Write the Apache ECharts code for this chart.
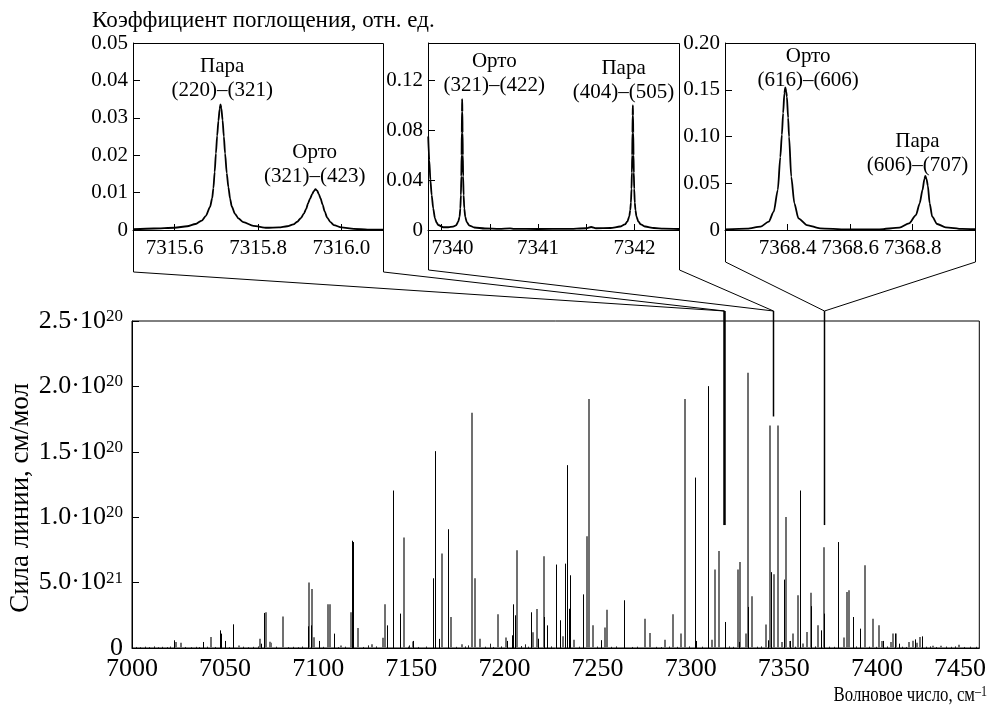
<!DOCTYPE html>
<html>
<head>
<meta charset="utf-8">
<script src="https://cdn.jsdelivr.net/npm/echarts@6/dist/echarts.min.js"></script>
<style>
  html, body { margin: 0; padding: 0; background: #fff; }
  #chart { width: 989px; height: 708px; }
</style>
</head>
<body>
<div id="chart"></div>
<script>
// ---------- data ----------
// Line list: [wavenumber, cm^-1 ; line strength in units of 1e20 cm/mol]
const linesBlack = [
  [7022.5,0.059],[7038.2,0.046],[7047.5,0.135],[7047.9,0.11],[7049.8,0.054],[7054.3,0.181],
  [7069.4,0.033],[7071.1,0.268],[7094.5,0.166],[7095.9,0.173],[7100.6,0.054],[7108.3,0.11],
  [7118.2,0.82],[7118.6,0.81],[7136.8,0.173],[7140.0,1.204],[7140.4,0.242],[7143.8,0.263],
  [7150.8,0.054],[7161.5,0.533],[7162.7,1.505],[7165.1,0.07],[7169.5,0.908],[7201.5,0.054],
  [7203.8,0.097],[7204.5,0.334],[7205.4,0.25],[7214.5,0.273],[7218.0,0.071],[7221.5,0.237],
  [7222.6,0.173],[7227.9,0.638],[7230.1,0.212],[7232.7,0.645],[7233.8,1.398],[7234.5,0.30],
  [7235.4,0.556],[7242.2,0.41],[7252.1,0.06],[7264.4,0.365],[7302.1,1.303],[7302.8,0.054],
  [7309.2,2.002],[7318.7,0.199],[7326.2,0.046],[7331.0,0.314],[7341.4,0.059],[7343.3,0.58],
  [7350.1,0.523],[7353.2,0.054],[7358.7,1.204],[7364.8,0.32],[7369.9,0.135],[7371.7,0.263],
  [7379.2,0.81],[7387.1,0.237],[7390.8,0.148],[7403.5,0.054],[7409.8,0.11],[7411.7,0.033],
  [7420.3,0.066],[7424.0,0.089]
];
const linesGray = [
  [7023.4,0.046],[7026.1,0.041],[7042.2,0.084],[7057.3,0.02],[7069.0,0.071],[7071.8,0.273],
  [7074.3,0.048],[7074.9,0.04],[7080.9,0.24],[7095.2,0.50],[7096.5,0.451],[7097.9,0.082],
  [7105.2,0.334],[7106.5,0.334],[7112.2,0.02],[7117.7,0.273],[7121.1,0.153],[7128.8,0.028],
  [7134.7,0.079],[7135.9,0.334],[7146.3,0.844],[7151.0,0.05],[7166.3,0.059],[7166.7,0.722],
  [7171.3,0.237],[7177.4,0.028],[7182.7,1.798],[7184.4,0.533],[7186.9,0.07],[7196.3,0.258],
  [7200.6,0.08],[7206.7,0.747],[7215.1,0.12],[7217.4,0.298],[7221.3,0.701],[7231.7,0.089],
  [7237.6,0.064],[7244.4,0.854],[7245.3,1.903],[7247.4,0.173],[7254.0,0.156],[7254.9,0.293],
  [7275.3,0.224],[7278.1,0.115],[7286.2,0.064],[7290.5,0.258],[7294.9,0.11],[7296.7,1.903],
  [7311.4,0.064],[7313.3,0.6],[7315.1,0.742],[7325.5,0.6],[7326.7,0.658],[7329.7,0.11],
  [7330.6,2.104],[7333.1,0.395],[7340.6,0.18],[7342.8,1.701],[7345.0,0.564],[7346.9,1.701],
  [7349.0,0.046],[7351.4,1.002],[7353.3,0.054],[7354.8,0.11],[7357.8,0.403],[7360.5,0.035],
  [7362.7,0.122],[7364.8,0.423],[7368.5,0.173],[7371.7,0.77],[7382.2,0.08],[7383.7,0.428],
  [7385.1,0.441],[7393.7,0.632],[7397.8,0.224],[7401.0,0.173],[7403.0,0.054],[7407.6,0.046],
  [7408.6,0.11],[7410.0,0.11],[7417.4,0.046],[7419.6,0.056],[7421.5,0.04],[7423.2,0.084],
  [7430.3,0.018],[7434.2,0.018],[7444.3,0.025]
];
const linesWeak = [
  [7002.1,0.008],[7004.5,0.006],[7006.8,0.010],[7009.3,0.007],[7011.7,0.012],[7014.0,0.006],
  [7016.2,0.009],[7018.9,0.007],[7020.4,0.011],[7028.7,0.008],[7031.5,0.006],[7034.2,0.009],
  [7036.0,0.007],[7040.1,0.010],[7044.6,0.008],[7052.0,0.007],[7059.4,0.010],[7062.3,0.006],
  [7065.0,0.009],[7067.4,0.012],[7077.5,0.010],[7083.6,0.007],[7086.2,0.009],[7089.0,0.006],
  [7091.5,0.011],[7102.4,0.009],[7110.5,0.007],[7114.3,0.010],[7124.0,0.008],[7126.6,0.020],
  [7131.2,0.012],[7148.0,0.010],[7149.0,0.020],[7153.6,0.008],[7157.9,0.011],[7174.2,0.009],
  [7179.0,0.012],[7180.3,0.020],[7189.5,0.010],[7192.2,0.033],[7194.0,0.008],[7198.4,0.012],
  [7209.0,0.015],[7211.0,0.028],[7212.5,0.010],[7225.0,0.012],[7239.8,0.010],[7249.5,0.011],
  [7257.3,0.009],[7260.1,0.012],[7268.5,0.008],[7271.0,0.010],[7281.6,0.009],[7284.0,0.007],
  [7288.4,0.011],[7292.5,0.009],[7299.0,0.012],[7306.0,0.010],[7320.5,0.012],[7323.0,0.009],
  [7335.5,0.010],[7338.0,0.012],[7356.0,0.010],[7367.0,0.012],[7374.5,0.010],[7376.8,0.009],
  [7389.0,0.012],[7395.5,0.010],[7399.5,0.009],[7405.5,0.012],[7413.5,0.010],[7415.5,0.008],
  [7426.5,0.010],[7428.5,0.012],[7432.0,0.008],[7437.0,0.011],[7440.0,0.009],[7442.0,0.012],
  [7447.0,0.008],[7450.0,0.010],[7453.0,0.009]
];

// Absorption profiles of the three fragments: [wavenumber, coefficient]
const profile1 = [
  [7315.500,0.0002],[7315.550,0.0004],[7315.600,0.0006],[7315.630,0.0010],[7315.650,0.0016],
  [7315.665,0.0025],[7315.675,0.0038],[7315.685,0.0062],[7315.690,0.0085],[7315.693,0.0112],
  [7315.696,0.0155],[7315.699,0.0205],[7315.702,0.0252],[7315.705,0.0292],[7315.708,0.0324],
  [7315.710,0.0336],[7315.712,0.0326],[7315.715,0.0294],[7315.718,0.0250],[7315.721,0.0205],
  [7315.725,0.0152],[7315.729,0.0114],[7315.733,0.0084],[7315.737,0.0063],[7315.745,0.0043],
  [7315.753,0.0031],[7315.765,0.0021],[7315.789,0.0011],[7315.821,0.0006],[7315.850,0.0007],
  [7315.870,0.0010],[7315.885,0.0015],[7315.894,0.0022],[7315.903,0.0032],[7315.910,0.0044],
  [7315.916,0.0057],[7315.920,0.0071],[7315.925,0.0084],[7315.930,0.0096],[7315.934,0.0104],
  [7315.938,0.0109],[7315.942,0.0105],[7315.946,0.0096],[7315.950,0.0085],[7315.955,0.0068],
  [7315.960,0.0050],[7315.966,0.0033],[7315.974,0.0021],[7315.982,0.0013],[7316.000,0.0007],
  [7316.030,0.0003],[7316.063,0.0001],[7316.100,0.0001]
];
const profile2 = [
  [7339.862,0.075],[7339.873,0.056],[7339.885,0.040],[7339.898,0.028],[7339.914,0.0174],
  [7339.932,0.0094],[7339.949,0.0060],[7339.966,0.0040],[7340.018,0.0022],[7340.070,0.0022],
  [7340.121,0.0027],[7340.150,0.0037],[7340.173,0.0067],[7340.187,0.0105],[7340.195,0.0174],
  [7340.201,0.0280],[7340.205,0.0430],[7340.208,0.0600],[7340.210,0.0780],[7340.212,0.0950],
  [7340.214,0.1050],[7340.216,0.0950],[7340.218,0.0780],[7340.221,0.0600],[7340.224,0.0430],
  [7340.229,0.0280],[7340.236,0.0174],[7340.246,0.0105],[7340.262,0.0062],[7340.290,0.0035],
  [7340.340,0.0020],[7340.450,0.0012],[7340.600,0.0009],[7340.710,0.0013],[7340.750,0.0009],
  [7341.000,0.0008],[7341.300,0.0009],[7341.500,0.0014],[7341.550,0.0024],[7341.600,0.0014],
  [7341.750,0.0016],[7341.850,0.0028],[7341.900,0.0045],[7341.925,0.0068],[7341.945,0.0110],
  [7341.955,0.0160],[7341.962,0.0220],[7341.968,0.0330],[7341.972,0.0460],[7341.975,0.0600],
  [7341.978,0.0780],[7341.980,0.0920],[7341.982,0.1000],[7341.984,0.0920],[7341.986,0.0780],
  [7341.989,0.0600],[7341.992,0.0460],[7341.996,0.0330],[7342.002,0.0220],[7342.009,0.0160],
  [7342.019,0.0110],[7342.039,0.0068],[7342.064,0.0045],[7342.110,0.0028],[7342.200,0.0016],
  [7342.300,0.0011],[7342.460,0.0008]
];
const profile3 = [
  [7368.200,0.0006],[7368.271,0.0014],[7368.314,0.0036],[7368.340,0.0090],[7368.356,0.0196],
  [7368.369,0.0430],[7368.377,0.0780],[7368.382,0.1020],[7368.386,0.1250],[7368.390,0.1460],
  [7368.393,0.1526],[7368.396,0.1480],[7368.398,0.1426],[7368.402,0.1200],[7368.405,0.0998],
  [7368.412,0.0570],[7368.422,0.0285],[7368.435,0.0125],[7368.462,0.0053],[7368.504,0.0018],
  [7368.588,0.0007],[7368.694,0.0007],[7368.758,0.0025],[7368.789,0.0071],[7368.811,0.0160],
  [7368.823,0.0285],[7368.832,0.0428],[7368.838,0.0545],[7368.841,0.0578],[7368.845,0.0545],
  [7368.849,0.0475],[7368.855,0.0285],[7368.863,0.0143],[7368.879,0.0064],[7368.906,0.0029],
  [7368.959,0.0011],[7369.000,0.0008]
];

// Transition labels: [wavenumber, coefficient, text]
const notes1 = [[7315.714, 0.0404, 'Пара\n(220)–(321)'], [7315.936, 0.0176, 'Орто\n(321)–(423)']];
const notes2 = [[7340.547, 0.1257, 'Орто\n(321)–(422)'], [7341.886, 0.1201, 'Пара\n(404)–(505)']];
const notes3 = [[7368.466, 0.1727, 'Орто\n(616)–(606)'], [7368.816, 0.0818, 'Пара\n(606)–(707)']];

// Axis ranges and tick labels
const mainXRange = [7000, 7455];
const mainYTicks = [0, 0.5, 1.0, 1.5, 2.0, 2.5];
const mainYTickLabels = ['0', '5.0·10^21', '1.0·10^20', '1.5·10^20', '2.0·10^20', '2.5·10^20'];
const inset1X = [7315.5, 7316.1], inset1XTicks = [7315.6, 7315.8, 7316.0];
const inset2X = [7339.86, 7342.46], inset2XTicks = [7340, 7340.5, 7341, 7341.5, 7342], inset2XLabels = [7340, 7341, 7342];
const inset3X = [7368.2, 7369.0], inset3XTicks = [7368.4, 7368.6, 7368.8];
const inset1YTicks = [0, 0.01, 0.02, 0.03, 0.04, 0.05];
const inset2YTicks = [0, 0.04, 0.08, 0.12];
const inset3YTicks = [0, 0.05, 0.10, 0.15, 0.20];
const insetYMax = [0.05, 0.15, 0.20];

// Where each fragment sits in the overview: wavenumber of the pointer and strength at its tip
const pointerAt = [7317.8, 7344.3, 7371.8];
const pointerTip = [0.94, 1.77, 0.94];

// ---------- layout ----------
const FONT = '"Liberation Serif", "Times New Roman", serif';
const MAIN = { left: 132, top: 321, width: 849, height: 327 };
const INSETS = [
  { left: 133, top: 43, width: 250, height: 187, bottom: 272 },
  { left: 428, top: 43, width: 251, height: 187, bottom: 270 },
  { left: 725, top: 43, width: 250, height: 187, bottom: 262 }
];
const POINTER_TOP_GAP = 10;

const chart = echarts.init(document.getElementById('chart'));

function stickSeries(data, color, width, crisp) {
  return {
    type: 'custom', xAxisIndex: 0, yAxisIndex: 0, data: data, silent: true, clip: true,
    renderItem: function (params, api) {
      const top = api.coord([api.value(0), api.value(1)]);
      const base = api.coord([api.value(0), 0]);
      const x = crisp ? Math.round(top[0]) + 0.5 : Math.round(top[0]);
      return {
        type: 'line',
        shape: { x1: x, y1: top[1], x2: x, y2: base[1] },
        style: { stroke: color, lineWidth: width }
      };
    }
  };
}

function profileSeries(idx, data) {
  return {
    type: 'line', xAxisIndex: idx, yAxisIndex: idx, data: data, showSymbol: false, silent: true,
    smooth: 0.25, smoothMonotone: 'x',
    lineStyle: { color: '#000', width: 1.8 }
  };
}

function noteSeries(idx, data) {
  return {
    type: 'scatter', xAxisIndex: idx, yAxisIndex: idx, data: data, symbolSize: 0, silent: true,
    itemStyle: { color: '#000', opacity: 1 },
    label: {
      show: true, position: 'inside', formatter: function (p) { return p.data[2]; },
      fontFamily: FONT, fontSize: 21, color: '#000', opacity: 1, lineHeight: 24, align: 'center',
      textBorderWidth: 0
    }
  };
}

function fmtCoef(v) { return v === 0 ? '0' : v.toFixed(2); }

const tickFont = { fontFamily: FONT, color: '#000' };

function insetXAxis(idx, range, ticks, labels, formatter, rich) {
  return {
    type: 'value', gridIndex: idx, min: range[0], max: range[1],
    axisLine: { show: true, onZero: false, lineStyle: { color: '#000', width: 1 } },
    axisTick: { show: true, inside: true, length: 6, customValues: ticks, lineStyle: { color: '#000' } },
    axisLabel: Object.assign({ customValues: labels, fontSize: 21, margin: 8, formatter: formatter, rich: rich || {} }, tickFont),
    splitLine: { show: false }
  };
}
function insetYAxis(idx, max, ticks) {
  return {
    type: 'value', gridIndex: idx, min: 0, max: max,
    axisLine: { show: true, lineStyle: { color: '#000', width: 1 } },
    axisTick: { show: true, inside: true, length: 7, customValues: ticks, lineStyle: { color: '#000' } },
    axisLabel: Object.assign({ customValues: ticks, fontSize: 21, margin: 5, formatter: fmtCoef }, tickFont),
    splitLine: { show: false }
  };
}

const option = {
  animation: false,
  backgroundColor: '#fff',
  grid: [
    { left: MAIN.left, top: MAIN.top, width: MAIN.width, height: MAIN.height, show: true, borderColor: '#000', borderWidth: 1, backgroundColor: 'transparent' },
    { left: INSETS[0].left, top: INSETS[0].top, width: INSETS[0].width, height: INSETS[0].height },
    { left: INSETS[1].left, top: INSETS[1].top, width: INSETS[1].width, height: INSETS[1].height },
    { left: INSETS[2].left, top: INSETS[2].top, width: INSETS[2].width, height: INSETS[2].height }
  ],
  xAxis: [
    {
      type: 'value', gridIndex: 0, min: mainXRange[0], max: mainXRange[1], interval: 50,
      axisLine: { show: true, onZero: false, lineStyle: { color: '#000' } },
      axisTick: { show: false },
      axisLabel: Object.assign({ fontSize: 26, margin: 8,
        formatter: function (v) { return v === 7450 ? '{e|7450}' : String(v); },
        rich: { e: { padding: [0, 20, 0, 0] } } }, tickFont),
      splitLine: { show: false }
    },
    insetXAxis(1, inset1X, inset1XTicks, inset1XTicks, function (v) { return v.toFixed(1); }),
    insetXAxis(2, inset2X, inset2XTicks, inset2XLabels,
      function (v) { return v === 7340 ? '{s|7340}' : String(v); },
      { s: { padding: [0, 0, 0, 22] } }),
    insetXAxis(3, inset3X, inset3XTicks, inset3XTicks, function (v) { return v.toFixed(1); })
  ],
  yAxis: [
    {
      type: 'value', gridIndex: 0, min: 0, max: 2.5, interval: 0.5,
      axisLine: { show: true, lineStyle: { color: '#000' } },
      axisTick: { show: true, inside: true, length: 7, lineStyle: { color: '#000' } },
      axisLabel: Object.assign({ fontSize: 26, margin: 9,
        formatter: function (v) {
          const i = mainYTicks.findIndex(function (t) { return Math.abs(t - v) < 1e-9; });
          const s = i >= 0 ? mainYTickLabels[i] : '';
          return s.replace(/\^(\d+)/, '{s|$1}');
        },
        rich: { s: { fontSize: 17, verticalAlign: 'top', fontFamily: FONT, color: '#000' } } }, tickFont),
      splitLine: { show: false }
    },
    insetYAxis(1, insetYMax[0], inset1YTicks),
    insetYAxis(2, insetYMax[1], inset2YTicks),
    insetYAxis(3, insetYMax[2], inset3YTicks)
  ],
  series: [
    stickSeries(linesWeak, '#222', 1, true),
    stickSeries(linesGray, '#707070', 2, false),
    stickSeries(linesBlack, '#000', 1, true),
    profileSeries(1, profile1),
    profileSeries(2, profile2),
    profileSeries(3, profile3),
    noteSeries(1, notes1),
    noteSeries(2, notes2),
    noteSeries(3, notes3)
  ]
};

chart.setOption(option);

// Frames of the fragments, funnels to the overview and free-standing captions
const graphics = [];
INSETS.forEach(function (b, i) {
  const tip = chart.convertToPixel({ xAxisIndex: 0, yAxisIndex: 0 }, [pointerAt[i], pointerTip[i]]);
  const px = Math.round(tip[0]) + 0.5;
  const topY = MAIN.top - POINTER_TOP_GAP;
  const l = b.left + 0.5, r = b.left + b.width + 0.5, t = b.top + 0.5;
  graphics.push({
    type: 'polyline', silent: true,
    shape: { points: [[l, b.bottom], [l, t], [r, t], [r, b.bottom]] },
    style: { stroke: '#000', lineWidth: 1, fill: null }
  });
  graphics.push({
    type: 'polyline', silent: true,
    shape: { points: [[l, b.bottom], [px, topY], [r, b.bottom]] },
    style: { stroke: '#000', lineWidth: 1, fill: null }
  });
  graphics.push({
    type: 'line', silent: true,
    shape: { x1: px, y1: topY, x2: px, y2: tip[1] },
    style: { stroke: '#000', lineWidth: i === 0 ? 2.5 : 1.5 }
  });
});

graphics.push({
  type: 'text', silent: true, x: 92, y: 21,
  style: { text: 'Коэффициент поглощения, отн. ед.', fontFamily: FONT, fontSize: 23, fill: '#000',
           align: 'left', verticalAlign: 'middle', textAlign: 'left', textVerticalAlign: 'middle' }
});
graphics.push({
  type: 'text', silent: true, x: 21, y: 498, rotation: Math.PI / 2,
  style: { text: 'Сила линии, см/мол', fontFamily: FONT, fontSize: 27, fill: '#000',
           align: 'center', verticalAlign: 'middle', textAlign: 'center', textVerticalAlign: 'middle' }
});
// Axis caption in a narrow setting, anchored at its right end
graphics.push({
  type: 'text', silent: true, x: 987, y: 695, scaleX: 0.8, scaleY: 1,
  style: {
    text: '{a|Волновое число, см}{b|–1}', fill: '#000', fontFamily: FONT, fontSize: 21,
    align: 'right', verticalAlign: 'middle', textAlign: 'right', textVerticalAlign: 'middle',
    rich: {
      a: { fontFamily: FONT, fontSize: 21, fill: '#000' },
      b: { fontFamily: FONT, fontSize: 15, fill: '#000', verticalAlign: 'top' }
    }
  }
});

chart.setOption({ graphic: graphics });
</script>
</body>
</html>
